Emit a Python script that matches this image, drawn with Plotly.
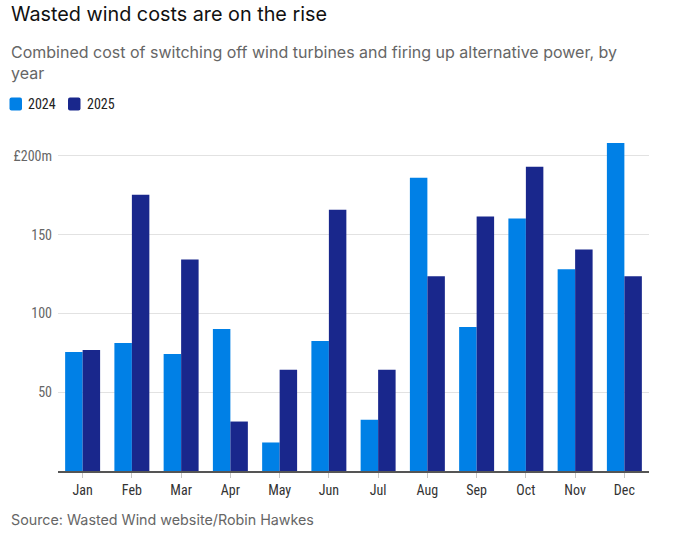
import plotly.graph_objects as go

months = ["Jan", "Feb", "Mar", "Apr", "May", "Jun", "Jul", "Aug", "Sep", "Oct", "Nov", "Dec"]
cost_2024 = [75.6, 81.3, 74.3, 90.1, 18.1, 82.5, 32.6, 186.1, 91.4, 160.2, 128.0, 208.2]
cost_2025 = [76.8, 175.4, 134.3, 31.4, 64.2, 165.9, 64.2, 123.6, 161.5, 193.1, 140.6, 123.6]
series_names = ["2024", "2025"]
series_colors = ["#0080e6", "#19278c"]
tick_vals = [50, 100, 150, 200]
tick_text = ["50", "100", "150", "£200m"]

W, H = 676, 539
L, R, T, B = 58, 27, 137, 68
PW, PH = W - L - R, H - T - B


def px(x):
    return (x - L) / PW


def py(y):
    return (H - B - y) / PH


cond = "Liberation Sans Narrow, Roboto Condensed, Arial Narrow, Roboto, sans-serif"
sans = "Inter, Roboto, sans-serif"

fig = go.Figure()
for name, vals, col in zip(series_names, [cost_2024, cost_2025], series_colors):
    fig.add_trace(go.Bar(x=months, y=vals, name=name, marker_color=col, marker_line_width=0))

fig.update_layout(
    width=W, height=H,
    margin=dict(l=L, r=R, t=T, b=B),
    paper_bgcolor="white", plot_bgcolor="white",
    barmode="group", bargap=0.29, bargroupgap=0,
    showlegend=False,
    font=dict(family=sans),
)
fig.update_xaxes(showgrid=False, showline=True, linecolor="#555", linewidth=1.5,
                 ticks="outside", ticklen=5, tickcolor="#c8c8c8",
                 tickfont=dict(family=cond, size=14, color="#333"), fixedrange=True, automargin=False)
fig.update_yaxes(range=[0, 212], tickvals=tick_vals, ticktext=tick_text, showgrid=True,
                 gridcolor="#e2e2e2", gridwidth=1.2, zeroline=False, showline=False,
                 ticks="", tickfont=dict(family=cond, size=14, color="#666"),
                 ticklabelstandoff=5, automargin=False)

fig.add_annotation(text="Wasted wind costs are on the rise", xref="paper", yref="paper",
                   x=px(9), y=py(14), xanchor="left", yanchor="middle",
                   showarrow=False, font=dict(size=19.8, color="#111", family=sans))
fig.add_annotation(text="Combined cost of switching off wind turbines and firing up alternative power, by<br>year",
                   xref="paper", yref="paper", align="left",
                   x=px(9), y=py(63), xanchor="left", yanchor="middle",
                   showarrow=False, font=dict(size=16, color="#666", family=sans))
fig.add_annotation(text="Source: Wasted Wind website/Robin Hawkes", xref="paper", yref="paper",
                   x=px(9), y=py(519), xanchor="left", yanchor="middle",
                   showarrow=False, font=dict(size=14.3, color="#666", family=sans))

# legend drawn manually: rounded swatches + labels
legend_x = [9.5, 68]
for name, col, lx in zip(series_names, series_colors, legend_x):
    x0, x1 = lx, lx + 12.5
    y0, y1 = 104 - 6.5, 104 + 6.5
    r = 2
    path = (f"M{px(x0 + r)},{py(y0)} L{px(x1 - r)},{py(y0)} Q{px(x1)},{py(y0)} {px(x1)},{py(y0 + r)} "
            f"L{px(x1)},{py(y1 - r)} Q{px(x1)},{py(y1)} {px(x1 - r)},{py(y1)} "
            f"L{px(x0 + r)},{py(y1)} Q{px(x0)},{py(y1)} {px(x0)},{py(y1 - r)} "
            f"L{px(x0)},{py(y0 + r)} Q{px(x0)},{py(y0)} {px(x0 + r)},{py(y0)} Z")
    fig.add_shape(type="path", path=path, xref="paper", yref="paper",
                  fillcolor=col, line=dict(width=0))
    fig.add_annotation(text=name, xref="paper", yref="paper", x=px(lx + 16.5), y=py(104),
                       xanchor="left", yanchor="middle", showarrow=False,
                       font=dict(size=14, color="#222", family=cond))

fig.write_html("out.html", config={"displayModeBar": False},
               post_script="document.body.style.margin='0';document.body.style.overflow='hidden';")
